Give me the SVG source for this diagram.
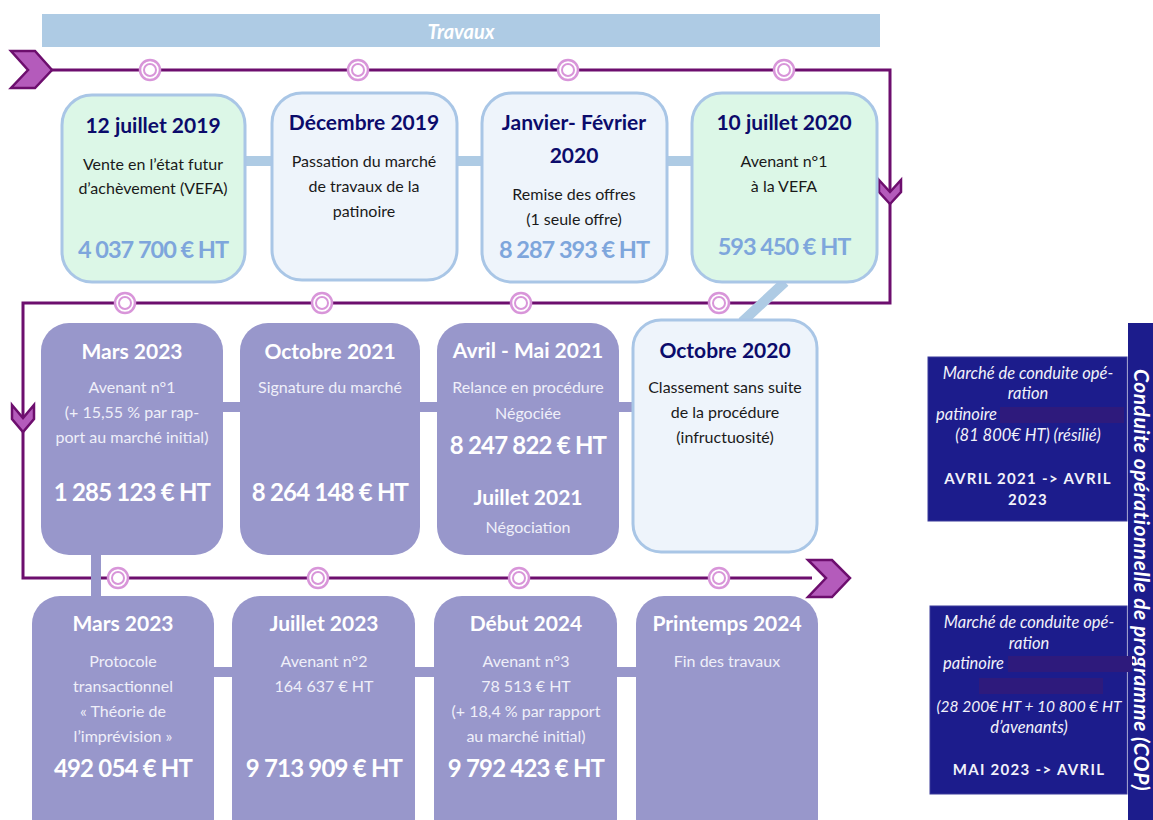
<svg xmlns="http://www.w3.org/2000/svg" xmlns:xlink="http://www.w3.org/1999/xlink" width="1153" height="820" viewBox="0 0 1153 820">
<defs>
<style>
text{font-family:Lato,"Open Sans","Liberation Sans",sans-serif;text-anchor:middle}
.g{fill:#dcf7e7;stroke:#a9c6e6;stroke-width:3}
.b{fill:#eef4fb;stroke:#a9c6e6;stroke-width:3}
.p{fill:#9897cb}
.t1{font-size:21px;font-weight:bold;fill:#0b0b6b}
.tw{font-size:21px;font-weight:bold;fill:#ffffff}
.bd{font-size:16px;fill:#1a1a1a}
.bl{font-size:16px;fill:#efeff9}
.m1{font-size:23.5px;font-weight:bold;fill:#7ea6dc;letter-spacing:-1px}
.mw{font-size:24px;font-weight:bold;fill:#ffffff;letter-spacing:-0.8px}
.cb{stroke:#aecbe4;stroke-width:10;fill:none}
.cp{stroke:#9897cb;stroke-width:10;fill:none}
.ln{stroke:#6d0e6e;stroke-width:3;fill:none}
.chev{fill:#b45bbb;stroke:#6d0e6e;stroke-width:2.5;stroke-linejoin:miter}
.nv{fill:#1c1c8c}
.rt{font-size:16.5px;font-style:italic;fill:#f2f2fa}
.rb{font-size:15px;font-weight:bold;fill:#f2f2fa;letter-spacing:1.3px}
.red{fill:#2e1a7c}
</style>
<symbol id="dot" viewBox="-12 -12 24 24" width="24" height="24" overflow="visible">
<circle r="10" fill="#fff" stroke="#d895d9" stroke-width="2.5"/>
<circle r="6" fill="#fff" stroke="#d895d9" stroke-width="2"/>
</symbol>
</defs>

<rect x="42" y="14" width="838" height="33" fill="#aecbe4"/>
<text x="461" y="39" style="font-size:20px;font-weight:bold;font-style:italic;fill:#ffffff">Travaux</text>

<g id="connectors">
<path class="ln" d="M50,70 H890 V303 H23 V578 H812"/>
<path class="cb" d="M245,161 H272 M457,161 H482 M667,161 H692 M785,282 L742,322"/>
<path class="cp" d="M223,407 H240 M420,407 H437 M619,407 H632 M96,555 V597 M214,672 H232 M415,672 H434 M617,672 H636"/>
<polygon class="chev" points="11,51 35,51 52,70 35,88 11,88 28,70"/>
<polygon class="chev" points="879,180 890,192 901,180 901,192 890,204 879,192"/>
<polygon class="chev" points="12,405 23,418 34,405 34,419 23,432 12,419"/>
<polygon class="chev" points="808,560 832,560 850,578 832,597 808,597 826,578"/>
<g>
<use xlink:href="#dot" x="138" y="58"/><use xlink:href="#dot" x="346" y="58"/><use xlink:href="#dot" x="556" y="58"/><use xlink:href="#dot" x="772" y="58"/>
<use xlink:href="#dot" x="113" y="291"/><use xlink:href="#dot" x="310" y="291"/><use xlink:href="#dot" x="509" y="291"/><use xlink:href="#dot" x="707" y="291"/>
<use xlink:href="#dot" x="106" y="566"/><use xlink:href="#dot" x="306" y="566"/><use xlink:href="#dot" x="507" y="566"/><use xlink:href="#dot" x="707" y="566"/>
</g>
</g>

<g id="n1">
<rect class="g" x="62" y="95" width="183" height="187" rx="30"/>
<text class="t1" x="153" y="133">12 juillet 2019</text>
<text class="bd" x="153" y="170">Vente en l’état futur</text>
<text class="bd" x="153" y="194">d’achèvement (VEFA)</text>
<text class="m1" x="153" y="258">4 037 700 € HT</text>
</g>
<g id="n2">
<rect class="b" x="272" y="93" width="185" height="187" rx="30"/>
<text class="t1" x="364" y="130">Décembre 2019</text>
<text class="bd" x="364" y="167">Passation du marché</text>
<text class="bd" x="364" y="192">de travaux de la</text>
<text class="bd" x="364" y="217">patinoire</text>
</g>
<g id="n3">
<rect class="b" x="482" y="93" width="185" height="189" rx="30"/>
<text class="t1" x="574" y="130">Janvier- Février</text>
<text class="t1" x="574" y="163">2020</text>
<text class="bd" x="574" y="200">Remise des offres</text>
<text class="bd" x="574" y="225">(1 seule offre)</text>
<text class="m1" x="574" y="258">8 287 393 € HT</text>
</g>
<g id="n4">
<rect class="g" x="692" y="93" width="185" height="189" rx="30"/>
<text class="t1" x="784" y="130">10 juillet 2020</text>
<text class="bd" x="784" y="167">Avenant n°1</text>
<text class="bd" x="784" y="192">à la VEFA</text>
<text class="m1" x="784" y="255">593 450 € HT</text>
</g>

<g id="n5">
<rect class="p" x="41" y="323" width="182" height="232" rx="28"/>
<text class="tw" x="132" y="359">Mars 2023</text>
<text class="bl" x="132" y="393">Avenant n°1</text>
<text class="bl" x="132" y="418">(+ 15,55 % par rap-</text>
<text class="bl" x="132" y="443">port au marché initial)</text>
<text class="mw" x="132" y="501">1 285 123 € HT</text>
</g>
<g id="n6">
<rect class="p" x="240" y="323" width="180" height="232" rx="28"/>
<text class="tw" x="330" y="359">Octobre 2021</text>
<text class="bl" x="330" y="393">Signature du marché</text>
<text class="mw" x="330" y="501">8 264 148 € HT</text>
</g>
<g id="n7">
<rect class="p" x="437" y="323" width="182" height="232" rx="28"/>
<text class="tw" x="528" y="358">Avril - Mai 2021</text>
<text class="bl" x="528" y="393">Relance en procédure</text>
<text class="bl" x="528" y="419">Négociée</text>
<text class="mw" x="528" y="454">8 247 822 € HT</text>
<text class="tw" x="528" y="505">Juillet 2021</text>
<text class="bl" x="528" y="533">Négociation</text>
</g>
<g id="n8">
<rect class="b" x="633" y="320" width="184" height="232" rx="28"/>
<text class="t1" x="725" y="358">Octobre 2020</text>
<text class="bd" x="725" y="393">Classement sans suite</text>
<text class="bd" x="725" y="418">de la procédure</text>
<text class="bd" x="725" y="443">(infructuosité)</text>
</g>

<g id="n9">
<rect class="p" x="32" y="596" width="182" height="250" rx="28"/>
<text class="tw" x="123" y="631">Mars 2023</text>
<text class="bl" x="123" y="667">Protocole</text>
<text class="bl" x="123" y="692">transactionnel</text>
<text class="bl" x="123" y="717">« Théorie de</text>
<text class="bl" x="123" y="742">l’imprévision »</text>
<text class="mw" x="123" y="777">492 054 € HT</text>
</g>
<g id="n10">
<rect class="p" x="232" y="596" width="183" height="250" rx="28"/>
<text class="tw" x="324" y="631">Juillet 2023</text>
<text class="bl" x="324" y="667">Avenant n°2</text>
<text class="bl" x="324" y="692">164 637 € HT</text>
<text class="mw" x="324" y="777">9 713 909 € HT</text>
</g>
<g id="n11">
<rect class="p" x="434" y="596" width="183" height="250" rx="28"/>
<text class="tw" x="526" y="631">Début 2024</text>
<text class="bl" x="526" y="667">Avenant n°3</text>
<text class="bl" x="526" y="692">78 513 € HT</text>
<text class="bl" x="526" y="717">(+ 18,4 % par rapport</text>
<text class="bl" x="526" y="742">au marché initial)</text>
<text class="mw" x="526" y="777">9 792 423 € HT</text>
</g>
<g id="n12">
<rect class="p" x="636" y="596" width="182" height="250" rx="28"/>
<text class="tw" x="727" y="631">Printemps 2024</text>
<text class="bl" x="727" y="667">Fin des travaux</text>
</g>

<g id="cop">
<rect class="nv" x="1128" y="323" width="30" height="500"/>
<text transform="translate(1134,580) rotate(90)" style="font-size:21px;font-weight:bold;font-style:italic;fill:#ffffff;letter-spacing:0.5px">Conduite opérationnelle de programme (COP)</text>
</g>
<g id="m1">
<rect class="nv" x="928" y="357" width="199" height="164" stroke="#3a3a9a" stroke-width="1"/>
<text class="rt" x="1028" y="379">Marché de conduite opé-</text>
<text class="rt" x="1028" y="399">ration</text>
<text class="rt" x="936" y="420" style="text-anchor:start">patinoire</text>
<rect class="red" x="1000" y="407" width="124" height="16"/>
<text class="rt" x="1028" y="441">(81 800€ HT) (résilié)</text>
<text class="rb" x="1028" y="484">AVRIL 2021 -&gt; AVRIL</text>
<text class="rb" x="1028" y="505">2023</text>
</g>
<g id="m2">
<rect class="nv" x="930" y="606" width="197" height="188" stroke="#3a3a9a" stroke-width="1"/>
<text class="rt" x="1029" y="628">Marché de conduite opé-</text>
<text class="rt" x="1029" y="649">ration</text>
<text class="rt" x="943" y="669" style="text-anchor:start">patinoire</text>
<rect class="red" x="1008" y="656" width="124" height="16"/>
<rect class="red" x="979" y="678" width="124" height="16"/>
<text class="rt" x="1029" y="712" style="font-size:15.5px">(28 200€ HT + 10 800 € HT</text>
<text class="rt" x="1029" y="733">d’avenants)</text>
<text class="rb" x="1029" y="775">MAI 2023 -&gt; AVRIL</text>
</g>
</svg>
